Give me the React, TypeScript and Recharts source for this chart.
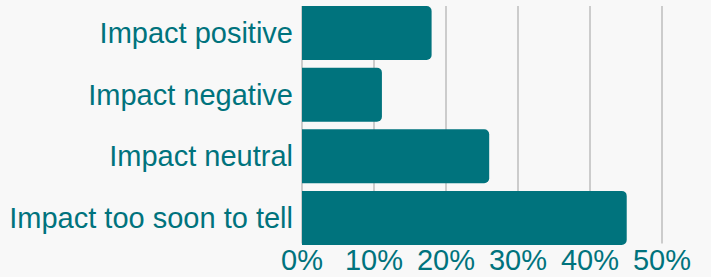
import { BarChart, Bar, XAxis, YAxis, CartesianGrid } from 'recharts';

const categories = [
  'Impact positive',
  'Impact negative',
  'Impact neutral',
  'Impact too soon to tell',
];
const shares = [18, 11.1, 26, 45.1];
const xTicks = [0, 10, 20, 30, 40, 50];

const TEAL = '#00737d';
const FONT = '"Liberation Sans", Arial, sans-serif';

export default function App() {
  const chartData = categories.map((name, i) => ({ name, value: shares[i] }));

  return (
    <div
      style={{
        position: 'absolute',
        left: 0,
        top: 0,
        width: 711,
        height: 277,
        background: '#f8f8f8',
        fontFamily: FONT,
      }}
    >
      <BarChart
        width={711}
        height={277}
        data={chartData}
        layout="vertical"
        margin={{ top: 6, right: 49, left: 0, bottom: 0 }}
        barCategoryGap={4}
      >
        <CartesianGrid horizontal={false} stroke="#cccccc" strokeWidth={2} />
        <XAxis
          type="number"
          domain={[0, 50]}
          ticks={xTicks}
          interval={0}
          height={33.5}
          axisLine={false}
          tickLine={false}
          tickSize={6}
          tickMargin={0}
          tickFormatter={(v) => `${v}%`}
          tick={{ fill: TEAL, fontSize: 29, fontFamily: FONT }}
        />
        <YAxis
          type="category"
          dataKey="name"
          width={302}
          axisLine={false}
          tickLine={false}
          tickSize={6}
          tickMargin={3}
          padding={{ top: -4, bottom: -5 }}
          tick={{ fill: TEAL, fontSize: 29, fontFamily: FONT }}
        />
        <Bar
          dataKey="value"
          fill={TEAL}
          radius={[0, 5, 5, 0]}
          isAnimationActive={false}
        />
      </BarChart>
    </div>
  );
}
